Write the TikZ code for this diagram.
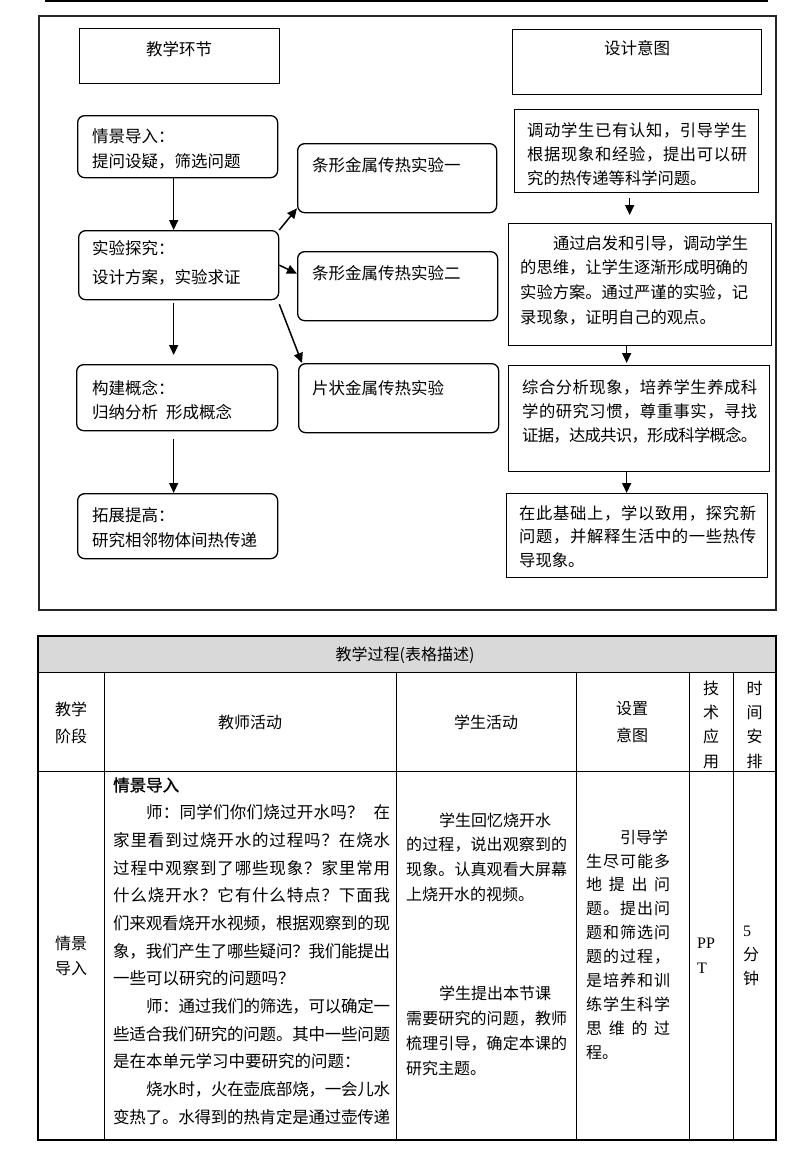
\documentclass[tikz,border=0pt]{standalone}
\usepackage{fontspec}
\setmainfont{Liberation Serif}
\newfontfamily\cjk{Noto Sans CJK SC}
\newfontfamily\cjkb[FakeBold=1.2]{Noto Sans CJK SC}
\usetikzlibrary{arrows.meta}
\XeTeXinterchartokenstate=1
\newcount\cjkcnt
\cjkcnt="4E00
\loop \XeTeXcharclass\cjkcnt=11 \advance\cjkcnt by 1 \ifnum\cjkcnt<"A000 \repeat
\XeTeXcharclass"FF0C=12 \XeTeXcharclass"3002=12 \XeTeXcharclass"FF1F=12
\XeTeXcharclass"FF1A=12 \XeTeXcharclass"3001=12
\newcommand\cjkgl{\hskip 0pt plus 0.5em minus 0.12em\relax}
\XeTeXinterchartoks 11 11 = {\cjkgl}
\XeTeXinterchartoks 11 12 = {\cjkgl}
\XeTeXinterchartoks 12 11 = {\cjkgl}
\newcommand\J[2]{\makebox[#1][s]{#2}}
\begin{document}
\begin{tikzpicture}[x=1pt,y=-1pt,
  rbox/.style={draw, line width=1.3pt, rounded corners=7pt, anchor=north west, inner sep=0pt},
  sbox/.style={draw, line width=1.3pt, anchor=north west, inner sep=0pt},
  arr/.style={line width=1.5pt, -{Triangle[length=10pt,width=9pt]}},
  lbl/.style={inner sep=0pt, font=\cjk\fontsize{16.5}{25}\selectfont},
  ft/.style={inner sep=0pt, align=left, anchor=west, font=\cjk\fontsize{16.5}{25}\selectfont},
  tt/.style={inner sep=0pt, align=center, font=\cjk\fontsize{16}{25}\selectfont},
  bt/.style={inner sep=0pt, align=left, anchor=west}]
\useasboundingbox (0,0) rectangle (800,1157);
\fill[white] (0,0) rectangle (800,1157);
% top rule and frame
\draw[line width=2.5pt] (45,1.2) -- (768,1.2);
\draw[line width=1.1pt, black!85] (39,16) rectangle (776,610);
% title boxes
\node[sbox, minimum width=200pt, minimum height=55pt] (t1) at (79,28) {};
\node[lbl] (t1t) at (179,49) {教学环节};
\node[sbox, minimum width=249pt, minimum height=65pt] (t2) at (512,29) {};
\node[lbl] (t2t) at (637,48) {设计意图};
% left column
\node[rbox, minimum width=200pt, minimum height=62pt] (b1) at (77,115) {};
\node[ft] (b1t) at (92,148.5) {情景导入：\\提问设疑，筛选问题};
\node[rbox, minimum width=200pt, minimum height=69pt] (b2) at (78,230) {};
\node[ft, font=\cjk\fontsize{16.5}{29}\selectfont] (b2t) at (92,262.5) {实验探究：\\设计方案，实验求证};
\node[rbox, minimum width=201pt, minimum height=66pt] (b3) at (76,364) {};
\node[ft, font=\cjk\fontsize{16.5}{24}\selectfont] (b3t) at (92,400) {构建概念：\\归纳分析\hspace{8pt}形成概念};
\node[rbox, minimum width=200pt, minimum height=65pt] (b4) at (77,493) {};
\node[ft] (b4t) at (92,527.5) {拓展提高：\\研究相邻物体间热传递};
% experiments
\node[rbox, minimum width=199pt, minimum height=69pt] (e1) at (297,143) {};
\node[ft] (e1t) at (312,165) {条形金属传热实验一};
\node[rbox, minimum width=200pt, minimum height=69pt] (e2) at (297,251) {};
\node[ft] (e2t) at (312,273) {条形金属传热实验二};
\node[rbox, minimum width=200pt, minimum height=69pt] (e3) at (298,363) {};
\node[ft] (e3t) at (312,388) {片状金属传热实验};
% right column
\node[sbox, minimum width=244pt, minimum height=83pt] (r1) at (514,109) {};
\node[ft, font=\cjk\fontsize{16.3}{24}\selectfont] (r1t) at (527,154) {%
\J{220pt}{调动学生已有认知，引导学生}\\
\J{220pt}{根据现象和经验，提出可以研}\\
究的热传递等科学问题。};
\node[sbox, minimum width=263pt, minimum height=122pt] (r2) at (508,223) {};
\node[ft, font=\cjk\fontsize{16.3}{24.7}\selectfont] (r2t) at (520,280) {%
\J{228pt}{\hspace*{33pt}通过启发和引导，调动学生}\\
\J{228pt}{的思维，让学生逐渐形成明确的}\\
\J{228pt}{实验方案。通过严谨的实验，记}\\
录现象，证明自己的观点。};
\node[sbox, minimum width=261pt, minimum height=106pt] (r3) at (508,365) {};
\node[ft, font=\cjk\fontsize{16.3}{24}\selectfont] (r3t) at (522,411) {%
\J{235pt}{综合分析现象，培养学生养成科}\\
\J{235pt}{学的研究习惯，尊重事实，寻找}\\
\J{235pt}{证据，达成共识，形成科学概念。}};
\node[sbox, minimum width=261pt, minimum height=84pt] (r4) at (506,493) {};
\node[ft, font=\cjk\fontsize{16.3}{23.5}\selectfont] (r4t) at (519,536.5) {%
\J{237pt}{在此基础上，学以致用，探究新}\\
\J{237pt}{问题，并解释生活中的一些热传}\\
导现象。};
% arrows
\draw[arr] ([xshift=-4pt]b1.south) -- ([xshift=-5pt]b2.north);
\draw[arr, shorten <=3pt, shorten >=9pt] ([xshift=-5pt]b2.south) -- ([xshift=-3.5pt]b3.north);
\draw[arr, shorten <=8pt] ([xshift=-3.5pt]b3.south) -- ([xshift=-4pt]b4.north);
\draw[arr] (b2.north east) -- ([yshift=5pt]e1.south west);
\draw[arr] (b2.east) -- ([yshift=12.5pt]e2.west);
\draw[arr] ([yshift=-4pt]b2.south east) -- ([xshift=4pt]e3.north west);
\draw[arr, shorten <=5pt, shorten >=8pt] ([xshift=-7pt]r1.south) -- ([xshift=-10.5pt]r2.north);
\draw[arr, shorten >=2pt] ([xshift=-13.5pt]r2.south) -- ([xshift=-12.5pt]r3.north);
\draw[arr] ([xshift=-12.5pt]r3.south) -- ([xshift=-10.5pt]r4.north);
% table
\fill[gray!30] (38,636) rectangle (776,672);
\draw[line width=1.2pt] (38,636) rectangle (776,1140);
\draw[line width=1pt] (38,672) -- (776,672);
\draw[line width=1pt] (38,771) -- (776,771);
\foreach \x in {104,396,576,689,733} \draw[line width=1pt] (\x,672) -- (\x,1140);
\node[tt] (h0) at (405,655) {教学过程(表格描述)};
\node[tt, font=\cjk\fontsize{16}{27}\selectfont] (h1) at (71,722.5) {教学\\阶段};
\node[tt] (h2) at (250,722) {教师活动};
\node[tt] (h3) at (486,722) {学生活动};
\node[tt, font=\cjk\fontsize{16}{27}\selectfont] (h4) at (632,722.5) {设置\\意图};
\node[tt, font=\cjk\fontsize{16}{24.3}\selectfont] (h5) at (711,724.5) {技\\术\\应\\用};
\node[tt, font=\cjk\fontsize{16}{24.3}\selectfont] (h6) at (754.5,724.5) {时\\间\\安\\排};
% body
\node[tt] (s1) at (71,955.5) {情景\\导入};
\node[bt, font=\cjk\fontsize{16.5}{27.67}\selectfont] (tch) at (113,951) {%
{\cjkb 情景导入}\\
\J{277pt}{\hspace*{33pt}师：同学们你们烧过开水吗？\hspace{10pt}在}\\
\J{277pt}{家里看到过烧开水的过程吗？在烧水}\\
\J{277pt}{过程中观察到了哪些现象？家里常用}\\
\J{277pt}{什么烧开水？它有什么特点？下面我}\\
\J{277pt}{们来观看烧开水视频，根据观察到的现}\\
\J{277pt}{象，我们产生了哪些疑问？我们能提出}\\
一些可以研究的问题吗？\\
\J{277pt}{\hspace*{33pt}师：通过我们的筛选，可以确定一}\\
\J{277pt}{些适合我们研究的问题。其中一些问题}\\
是在本单元学习中要研究的问题：\\
\J{277pt}{\hspace*{33pt}烧水时，火在壶底部烧，一会儿水}\\
\J{277pt}{变热了。水得到的热肯定是通过壶传递}};
\node[bt, font=\cjk\fontsize{16}{24.7}\selectfont] (stA) at (406,857) {%
\hspace*{33pt}学生回忆烧开水\\
\J{161pt}{的过程，说出观察到的}\\
\J{161pt}{现象。认真观看大屏幕}\\
上烧开水的视频。};
\node[bt, font=\cjk\fontsize{16}{25}\selectfont] (stB) at (406,1030.5) {%
\hspace*{33pt}学生提出本节课\\
\J{161pt}{需要研究的问题，教师}\\
\J{161pt}{梳理引导，确定本课的}\\
研究主题。};
\node[bt, font=\cjk\fontsize{16}{23.9}\selectfont] (intent) at (586,944.5) {%
\hspace*{34pt}引导学\\
\J{84pt}{生尽可能多}\\
\J{84pt}{地提出问}\\
\J{84pt}{题。提出问}\\
\J{84pt}{题和筛选问}\\
\J{84pt}{题的过程，}\\
\J{84pt}{是培养和训}\\
\J{84pt}{练学生科学}\\
\J{84pt}{思维的过}\\
程。};
\node[bt, font=\fontsize{16}{25}\selectfont] (ppt) at (697,955.5) {PP\\T};
\node[bt, font=\fontsize{16}{24}\selectfont] (tm) at (743,956) {5\\{\cjk 分}\\{\cjk 钟}};
\end{tikzpicture}
\end{document}
